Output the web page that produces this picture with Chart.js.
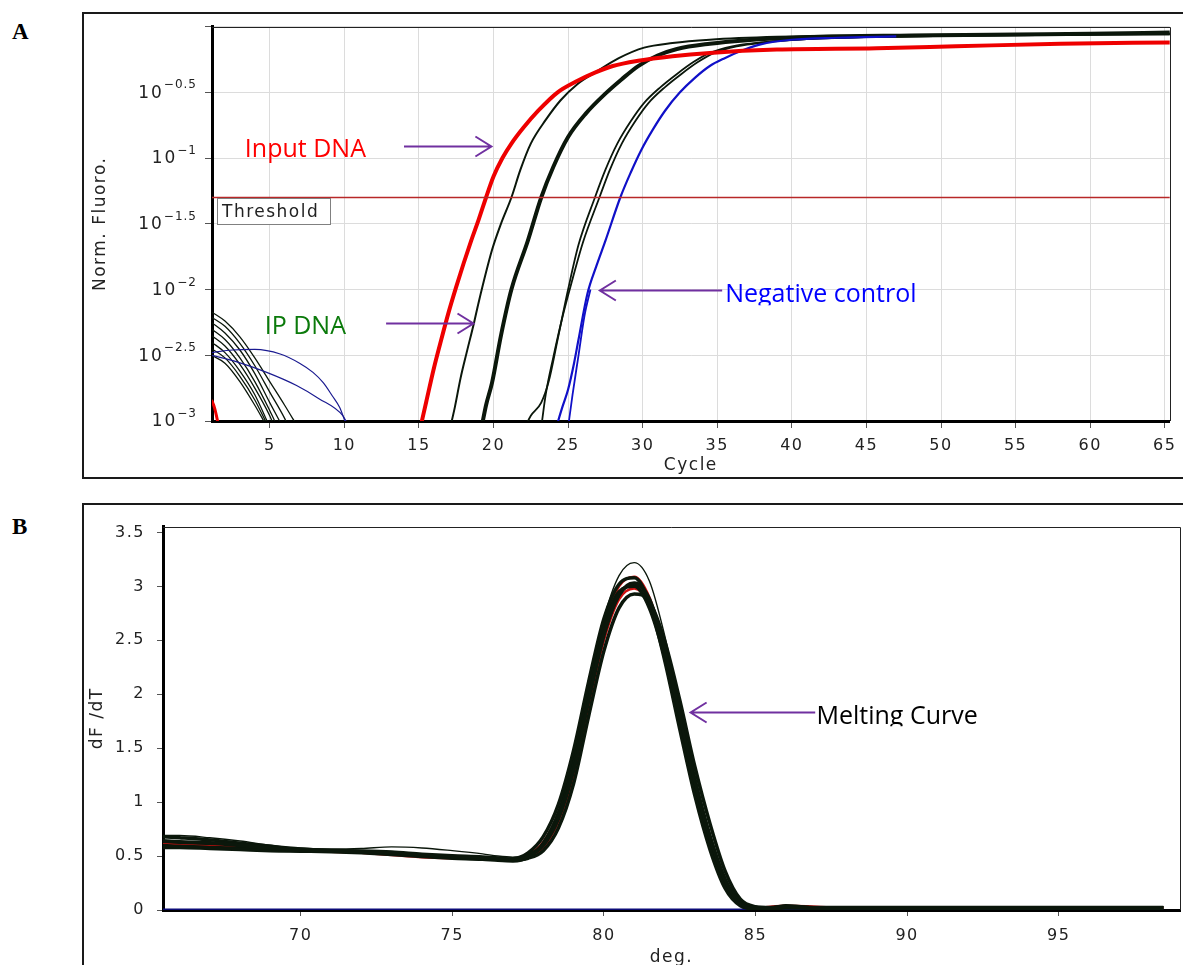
<!DOCTYPE html>
<html>
<head>
<meta charset="utf-8">
<script src="https://cdn.jsdelivr.net/npm/chart.js@4.4.1/dist/chart.umd.min.js"></script>
<style>
  body { margin: 0; background: #fff; width: 1183px; height: 965px; overflow: hidden; position: relative; }
  .frame { position: absolute; border: 2px solid #1a1a1a; box-sizing: border-box; }
  .plabel { position: absolute; font: bold 23px "Liberation Serif", serif; line-height: 24px; color: #000; }
  canvas { position: absolute; }
</style>
</head>
<body>

<div class="plabel" style="left:12px; top:20px;">A</div>
<div class="frame" style="left:82px; top:12px; width:1120px; height:467px;"></div>
<canvas id="chartA" width="1099" height="463" style="left:84px; top:14px;"></canvas>

<div class="plabel" style="left:12px; top:515px;">B</div>
<div class="frame" style="left:82px; top:503px; width:1120px; height:480px;"></div>
<canvas id="chartB" width="1099" height="460" style="left:84px; top:505px;"></canvas>

<script>
// ---- panel A: amplification curves, [cycle, log10(norm. fluoro)] ----
const cycleTicks = [5, 10, 15, 20, 25, 30, 35, 40, 45, 50, 55, 60, 65];
const fluoroTickExps = [-3, -2.5, -2, -1.5, -1, -0.5, 0];
const thresholdExp = -1.299;

const inputDNA = [[15.1,-3.05],[15.5,-2.85],[16.0,-2.6],[16.5,-2.38],[17.0,-2.17],[17.5,-1.98],[18.0,-1.8],[18.5,-1.63],[19.0,-1.47],[19.5,-1.3],[20.0,-1.14],[20.6,-1.0],[21.2,-0.89],[22.0,-0.77],[23.0,-0.64],[24.3,-0.5],[25.5,-0.42],[26.8,-0.35],[28.0,-0.3],[29.7,-0.26],[32.0,-0.225],[34.5,-0.2],[39.0,-0.175],[45.7,-0.165],[51.0,-0.15],[58.0,-0.13],[65.4,-0.12]];
const inputEarly = [[1.1,-2.84],[1.3,-2.9],[1.6,-3.05]];

const ipThin = [[17.1,-3.05],[17.4,-2.9],[17.8,-2.67],[18.2,-2.48],[18.7,-2.25],[19.0,-2.1],[19.9,-1.7],[20.5,-1.5],[21.2,-1.3],[21.8,-1.09],[22.5,-0.89],[23.5,-0.71],[24.5,-0.56],[25.6,-0.44],[26.8,-0.35],[28.4,-0.24],[30.1,-0.16],[32.0,-0.125],[34.5,-0.1],[39.0,-0.078],[45.7,-0.065],[55.0,-0.058],[65.4,-0.052]];
const ipMain = [[19.2,-3.05],[19.5,-2.88],[19.9,-2.71],[20.5,-2.35],[21.2,-2.0],[22.3,-1.63],[23.2,-1.3],[24.0,-1.07],[25.0,-0.84],[26.2,-0.66],[27.5,-0.51],[28.6,-0.4],[29.7,-0.3],[31.0,-0.22],[32.3,-0.17],[34.5,-0.13],[36.8,-0.105],[41.2,-0.08],[48.0,-0.068],[55.0,-0.06],[60.0,-0.055],[65.4,-0.045]];
const ipLateA = [[22.1,-3.05],[22.5,-2.96],[23.2,-2.86],[23.7,-2.7],[24.3,-2.38],[25.0,-2.0],[25.7,-1.66],[26.8,-1.3],[27.5,-1.09],[28.3,-0.89],[29.2,-0.72],[30.1,-0.58],[31.2,-0.46],[32.3,-0.36],[33.4,-0.27],[34.5,-0.2],[36.0,-0.15],[37.9,-0.12],[41.0,-0.095],[45.0,-0.08],[52.0,-0.068],[65.4,-0.058]];
const ipLateB = [[23.2,-3.05],[23.5,-2.8],[24.0,-2.52],[24.6,-2.22],[25.3,-1.92],[26.0,-1.64],[27.1,-1.3],[27.8,-1.09],[28.6,-0.89],[29.5,-0.72],[30.4,-0.58],[31.5,-0.46],[32.6,-0.36],[33.7,-0.27],[34.8,-0.2],[36.3,-0.15],[38.2,-0.12],[41.0,-0.095],[45.0,-0.08],[52.0,-0.068],[65.4,-0.058]];

const negA = [[24.2,-3.05],[24.6,-2.9],[25.0,-2.76],[25.4,-2.56],[25.7,-2.38],[26.3,-2.03],[26.9,-1.82],[27.5,-1.63],[28.5,-1.3],[29.2,-1.11],[29.9,-0.94],[30.7,-0.78],[31.5,-0.64],[32.5,-0.5],[33.5,-0.39],[34.5,-0.3],[35.5,-0.24],[36.7,-0.18],[37.9,-0.135],[40.0,-0.1],[43.0,-0.085],[47.0,-0.075]];
const negB = [[25.0,-3.05],[25.3,-2.8],[25.7,-2.5],[26.1,-2.2],[26.5,-2.0]];

// baseline noise before amplification
const noiseBlack = [
  [[1.1,-2.17],[2,-2.24],[3,-2.36],[4,-2.52],[5,-2.7],[6,-2.88],[6.8,-3.03]],
  [[1.1,-2.21],[2,-2.28],[3,-2.41],[4,-2.58],[5,-2.78],[6,-2.98],[6.2,-3.03]],
  [[1.1,-2.25],[2,-2.33],[3,-2.46],[4,-2.64],[5,-2.86],[5.8,-3.03]],
  [[1.1,-2.3],[2,-2.38],[3,-2.52],[4,-2.7],[5,-2.92],[5.5,-3.04]],
  [[1.1,-2.35],[2,-2.43],[3,-2.57],[4,-2.75],[5,-2.96],[5.3,-3.04]],
  [[1.1,-2.4],[2,-2.48],[3,-2.62],[4,-2.8],[4.9,-3.02]],
  [[1.1,-2.45],[2,-2.52],[3,-2.66],[4,-2.84],[4.8,-3.02]],
  [[1.1,-2.5],[2,-2.56],[3,-2.7],[4,-2.88],[4.7,-3.02]]
];
const noiseBlue = [
  [[1.1,-2.48],[2.5,-2.46],[4.0,-2.455],[5.7,-2.49],[7.0,-2.56],[7.9,-2.63],[8.6,-2.71],[9.2,-2.81],[9.7,-2.9],[10.1,-3.02]],
  [[1.1,-2.5],[2.8,-2.55],[4.8,-2.63],[6.8,-2.73],[8.3,-2.83],[9.9,-2.96],[10.2,-3.02]]
];

// ---- panel B: melting curves, dF/dT per temperature ----
const degTicks = [70, 75, 80, 85, 90, 95];
const dfTicks = [0, 0.5, 1, 1.5, 2, 2.5, 3, 3.5];
const meltTemps = [65.4,66,67,68,69,70,71,72,73,74,75,76,76.5,77,77.5,78,78.5,79,79.5,80,80.5,81,81.5,82,82.5,83,83.5,84,84.5,85,85.5,86,87,88,90,92,94,96,98.45];
const meltBlack1 = [0.64,0.63,0.62,0.6,0.575,0.56,0.55,0.545,0.535,0.515,0.5,0.49,0.48,0.47,0.5,0.6,0.85,1.3,1.95,2.55,2.92,3.03,2.88,2.42,1.82,1.2,0.68,0.28,0.07,0.02,0.02,0.03,0.02,0.02,0.02,0.02,0.02,0.02,0.02];
const meltBlack2 = [0.68,0.67,0.65,0.62,0.59,0.565,0.55,0.54,0.525,0.505,0.49,0.48,0.47,0.475,0.53,0.68,0.98,1.48,2.12,2.7,3.02,3.08,2.85,2.32,1.68,1.06,0.56,0.2,0.04,0.01,0.01,0.02,0.02,0.02,0.02,0.02,0.02,0.02,0.02];
const meltBlack3 = [0.6,0.59,0.58,0.57,0.555,0.55,0.545,0.54,0.53,0.51,0.49,0.475,0.47,0.465,0.48,0.55,0.76,1.17,1.8,2.4,2.8,2.93,2.86,2.5,1.95,1.33,0.8,0.36,0.1,0.03,0.02,0.03,0.02,0.02,0.02,0.02,0.02,0.02,0.02];
const meltBlack4 = [0.69,0.69,0.67,0.64,0.6,0.57,0.565,0.57,0.585,0.575,0.55,0.52,0.5,0.49,0.52,0.62,0.9,1.38,2.05,2.7,3.1,3.22,3.05,2.55,1.9,1.25,0.7,0.3,0.08,0.03,0.03,0.05,0.03,0.03,0.03,0.03,0.03,0.03,0.03];
const meltBlack5 = [0.58,0.58,0.57,0.56,0.55,0.545,0.54,0.53,0.515,0.495,0.48,0.47,0.46,0.455,0.49,0.62,0.9,1.38,2.02,2.62,2.95,3.0,2.8,2.35,1.76,1.15,0.64,0.25,0.06,0.02,0.02,0.02,0.02,0.02,0.02,0.02,0.02,0.02,0.02];
const meltRed1 = [0.63,0.63,0.61,0.59,0.57,0.555,0.545,0.53,0.51,0.49,0.48,0.475,0.47,0.47,0.51,0.63,0.9,1.38,2.03,2.63,3.0,3.09,2.9,2.43,1.82,1.19,0.66,0.26,0.06,0.02,0.03,0.04,0.03,0.02,0.02,0.02,0.02,0.02,0.02];
const meltRed2 = [0.62,0.61,0.6,0.585,0.565,0.55,0.54,0.535,0.52,0.5,0.485,0.475,0.47,0.465,0.49,0.58,0.82,1.25,1.9,2.5,2.88,2.98,2.84,2.4,1.8,1.18,0.67,0.27,0.07,0.02,0.02,0.03,0.02,0.02,0.02,0.02,0.02,0.02,0.02];
const negTemps = [65.4, 98.45];
const negMelt = [0, 0];

// ---------------------------------------------------------------
Chart.defaults.font.family = '"DejaVu Sans", sans-serif';
Chart.defaults.font.size = 16;
Chart.defaults.color = '#222';

const BLACK = '#0b170b';
const PURPLE = '#7030a0';

const toLog = arr => arr.map(([c, e]) => ({ x: c, y: Math.pow(10, e) }));
const toMelt = (temps, vals) => temps.map((t, i) => ({ x: t, y: vals[i] }));

function line(data, color, width) {
  return { data: data, borderColor: color, borderWidth: width, pointRadius: 0, fill: false, clip: 0 };
}

// wider tick text, like the original screenshots
const spacing = {
  id: 'spacing',
  beforeDraw(chart) { chart.ctx.letterSpacing = '1.5px'; }
};

// thin top and right edges of the plot box
const plotBox = {
  id: 'plotBox',
  beforeDatasetsDraw(chart) {
    const { ctx, chartArea: a } = chart;
    ctx.save();
    ctx.strokeStyle = '#222';
    ctx.lineWidth = 1;
    ctx.beginPath();
    ctx.moveTo(a.left, Math.round(a.top) + 0.5);
    ctx.lineTo(Math.round(a.right) + 0.5, Math.round(a.top) + 0.5);
    ctx.lineTo(Math.round(a.right) + 0.5, a.bottom);
    ctx.stroke();
    ctx.restore();
  }
};

// text notes with purple arrows, given in data coords
const callouts = {
  id: 'callouts',
  afterDatasetsDraw(chart, args, opts) {
    const { ctx, scales: { x, y } } = chart;
    const py = v => y.getPixelForValue(opts.logY ? Math.pow(10, v) : v);
    ctx.save();
    ctx.letterSpacing = '0px';
    opts.items.forEach(n => {
      // arrow
      const x1 = x.getPixelForValue(n.arrow[0]);
      const x2 = x.getPixelForValue(n.arrow[1]);
      const ay = Math.round(py(n.arrow[2])) + 0.5;
      const dir = x2 > x1 ? 1 : -1;
      ctx.strokeStyle = PURPLE;
      ctx.lineWidth = 2;
      ctx.beginPath();
      ctx.moveTo(x1, ay);
      ctx.lineTo(x2, ay);
      ctx.moveTo(x2 - dir * 16, ay - 10);
      ctx.lineTo(x2, ay);
      ctx.lineTo(x2 - dir * 16, ay + 10);
      ctx.stroke();
      // text
      const tx = x.getPixelForValue(n.at[0]);
      const ty = py(n.at[1]);
      ctx.save();
      if (n.clip != null) {
        ctx.beginPath();
        ctx.rect(tx - 5, ty - 40, 400, 40 + n.clip);
        ctx.clip();
      }
      ctx.font = '25px "Open Sans", sans-serif';
      ctx.fillStyle = n.color;
      ctx.textBaseline = 'alphabetic';
      ctx.textAlign = 'left';
      ctx.fillText(n.text, tx, ty);
      ctx.restore();
    });
    ctx.restore();
  }
};

// 10^x tick labels for the log axis
const logLabels = {
  id: 'logLabels',
  afterDraw(chart) {
    const { ctx, scales: { y } } = chart;
    ctx.save();
    ctx.fillStyle = '#222';
    ctx.textAlign = 'right';
    const right = y.right - 15;
    fluoroTickExps.forEach(e => {
      if (e === 0) return;
      const p = y.getPixelForValue(Math.pow(10, e));
      const sup = '\u2212' + String(Math.abs(e));
      ctx.letterSpacing = '1px';
      ctx.font = '12px "DejaVu Sans"';
      const w = ctx.measureText(sup).width;
      ctx.textBaseline = 'alphabetic';
      ctx.fillText(sup, right, p - 4);
      ctx.letterSpacing = '2px';
      ctx.font = '17px "DejaVu Sans"';
      ctx.textBaseline = 'middle';
      ctx.fillText('10', right - w, p + 1);
    });
    ctx.restore();
  }
};

const thresholdTag = {
  id: 'thresholdTag',
  afterDatasetsDraw(chart) {
    const { ctx, chartArea: a, scales: { y } } = chart;
    const p = Math.round(y.getPixelForValue(Math.pow(10, thresholdExp)));
    ctx.save();
    ctx.fillStyle = '#fff';
    ctx.fillRect(a.left + 5, p + 1, 113, 26);
    ctx.strokeStyle = '#808080';
    ctx.lineWidth = 1;
    ctx.strokeRect(a.left + 5.5, p + 1.5, 113, 26);
    ctx.fillStyle = '#222';
    ctx.font = '17px "DejaVu Sans"';
    ctx.letterSpacing = '1.5px';
    ctx.textBaseline = 'alphabetic';
    ctx.fillText('Threshold', a.left + 10, p + 20);
    ctx.restore();
  }
};

// ---------------- chart A ----------------
const dsA = [
  Object.assign(line([{ x: 1.13, y: Math.pow(10, thresholdExp) }, { x: 65.4, y: Math.pow(10, thresholdExp) }], '#b82828', 1.5), { tension: 0 }),
  line(toLog(inputDNA), '#ee0000', 4),
  line(toLog(inputEarly), '#ee0000', 3),
  line(toLog(negA), '#1010c8', 2.2),
  line(toLog(negB), '#1010c8', 1.8),
  line(toLog(ipMain), BLACK, 4),
  line(toLog(ipThin), BLACK, 2),
  line(toLog(ipLateA), BLACK, 1.8),
  line(toLog(ipLateB), BLACK, 1.8)
];
noiseBlue.forEach(c => dsA.push(line(toLog(c), '#1a1a90', 1.2)));
noiseBlack.forEach(c => dsA.push(line(toLog(c), BLACK, 1.3)));

new Chart(document.getElementById('chartA'), {
  type: 'line',
  data: { datasets: dsA },
  options: {
    responsive: false,
    animation: false,
    devicePixelRatio: 1,
    events: [],
    layout: { padding: { top: 12, right: 8, left: 0, bottom: 0 } },
    elements: { line: { cubicInterpolationMode: 'monotone' } },
    plugins: {
      legend: { display: false },
      tooltip: { enabled: false },
      callouts: {
        logY: true,
        items: [
          { text: 'Input DNA', color: '#ff0000', at: [3.33, -0.995], arrow: [14.0, 19.86, -0.911] },
          { text: 'IP DNA', color: '#0b7a0b', at: [4.66, -2.339], arrow: [12.8, 18.66, -2.256] },
          { text: 'Negative control', color: '#0000ff', at: [35.53, -2.096], arrow: [35.33, 27.13, -2.005], clip: 3 }
        ]
      }
    },
    scales: {
      x: {
        type: 'linear',
        min: 1.13,
        max: 65.33,
        afterBuildTicks: s => { s.ticks = cycleTicks.map(v => ({ value: v })); },
        afterFit: s => { s.height = 56; },
        grid: { color: '#dcdcdc', tickColor: '#555', tickLength: 7 },
        border: { color: '#000', width: 3 },
        ticks: { autoSkip: false, maxRotation: 0, padding: 8, color: '#222', font: { size: 16 } },
        title: { display: true, text: 'Cycle', font: { size: 17 }, color: '#222', padding: { top: 0, bottom: 1 } }
      },
      y: {
        type: 'logarithmic',
        min: 0.001,
        max: 1,
        afterBuildTicks: s => { s.ticks = fluoroTickExps.map(e => ({ value: Math.pow(10, e) })); },
        afterFit: s => { s.width = 128; },
        grid: { color: '#dcdcdc', tickColor: '#555', tickLength: 7 },
        border: { color: '#000', width: 3 },
        ticks: { callback: () => '' },
        title: { display: true, text: 'Norm. Fluoro.', font: { size: 17 }, color: '#222', padding: { top: 6, bottom: 0 } }
      }
    }
  },
  plugins: [spacing, plotBox, logLabels, thresholdTag, callouts]
});

// ---------------- chart B ----------------
// red traces sit under the black band, as in the original
const dsB = [
  line(toMelt(meltTemps, meltBlack4), BLACK, 1.4),
  line(toMelt(meltTemps, meltBlack1), BLACK, 4),
  line(toMelt(meltTemps, meltBlack2), BLACK, 3.5),
  line(toMelt(meltTemps, meltBlack3), BLACK, 3.5),
  line(toMelt(meltTemps, meltBlack5), BLACK, 3.5),
  line(toMelt(meltTemps, meltRed1), '#d01010', 2.5),
  line(toMelt(meltTemps, meltRed2), '#d01010', 2.5),
  line(toMelt(negTemps, negMelt), '#0c0c78', 3)
];

new Chart(document.getElementById('chartB'), {
  type: 'line',
  data: { datasets: dsB },
  options: {
    responsive: false,
    animation: false,
    devicePixelRatio: 1,
    events: [],
    layout: { padding: { top: 13, right: 3, left: 0, bottom: 0 } },
    elements: { line: { cubicInterpolationMode: 'monotone' } },
    plugins: {
      legend: { display: false },
      tooltip: { enabled: false },
      callouts: {
        logY: false,
        items: [
          { text: 'Melting Curve', color: '#000', at: [87.01, 1.723], arrow: [86.97, 82.86, 1.84], clip: 2 }
        ]
      }
    },
    scales: {
      x: {
        type: 'linear',
        min: 65.46,
        max: 99.0,
        afterBuildTicks: s => { s.ticks = degTicks.map(v => ({ value: v })); },
        afterFit: s => { s.height = 55; },
        grid: { drawOnChartArea: false, tickColor: '#555', tickLength: 6 },
        border: { color: '#000', width: 3 },
        ticks: { autoSkip: false, maxRotation: 0, padding: 10, color: '#222', font: { size: 16 } },
        title: { display: true, text: 'deg.', font: { size: 17 }, color: '#222', padding: { top: 0, bottom: -3 } }
      },
      y: {
        type: 'linear',
        min: 0,
        max: 3.554,
        afterBuildTicks: s => { s.ticks = dfTicks.map(v => ({ value: v })); },
        afterFit: s => { s.width = 79; },
        grid: { drawOnChartArea: false, tickColor: '#555', tickLength: 6 },
        border: { color: '#000', width: 3 },
        ticks: { padding: 12, color: '#222', font: { size: 16 }, callback: v => String(v) },
        title: { display: true, text: 'dF /dT', font: { size: 17 }, color: '#222', padding: { top: 3, bottom: 0 } }
      }
    }
  },
  plugins: [spacing, plotBox, callouts]
});
</script>
</body>
</html>
